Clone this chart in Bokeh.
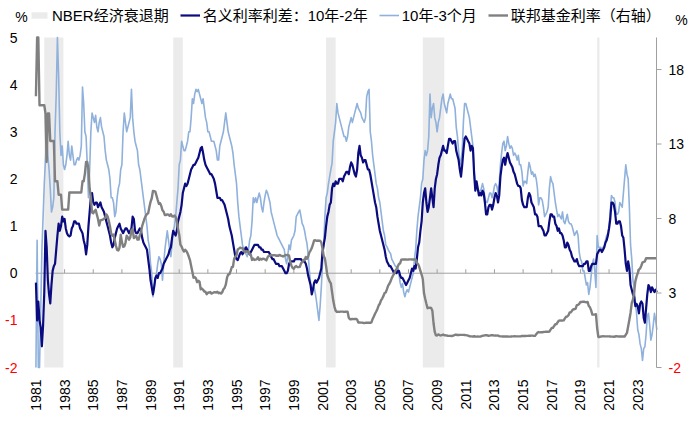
import math
from bokeh.plotting import figure
from bokeh.models import Range1d, Legend, LegendItem, Label, ColumnDataSource
from bokeh.embed import file_html
from bokeh.resources import INLINE

# ---------------- data (monthly, starting Jan 1981) ----------------
START_YEAR = 1981

SPREAD_10Y2Y = [
    -0.2, -1.0, -0.6, -1.0, -1.15, -1.55, -1.1, -0.4, 0.9, 0.55, -0.15, -0.45,   # 1981
    -0.64, -0.25, 0.05, 0.15, 0.2, 0.5, 0.8, 1.05, 0.9, 1.0, 1.2, 1.1,          # 1982
    1.15, 0.95, 0.85, 0.8, 0.78, 0.8, 0.95, 1.0, 1.1, 1.1, 1.05, 1.05,          # 1983
    1.05, 0.95, 0.9, 0.85, 0.7, 0.6, 0.4, 0.6, 1.0, 1.3, 1.6, 1.7,              # 1984
    1.5, 1.45, 1.5, 1.5, 1.4, 1.45, 1.5, 1.4, 1.35, 1.3, 1.2, 1.1,              # 1985
    1.0, 0.9, 0.8, 0.65, 0.55, 0.6, 0.75, 0.85, 0.95, 1.0, 1.05, 0.95,          # 1986
    0.9, 0.85, 0.9, 0.95, 0.95, 0.9, 0.85, 0.9, 0.95, 1.2, 1.15, 0.9,           # 1987
    0.85, 0.85, 0.9, 0.95, 0.9, 0.75, 0.65, 0.6, 0.55, 0.5, 0.3, 0.1,           # 1988
    -0.15, -0.3, -0.45, -0.3, -0.1, -0.05, -0.1, 0.0, 0.0, 0.05, 0.1, 0.2,      # 1989
    0.25, 0.3, 0.35, 0.4, 0.5, 0.55, 0.75, 0.9, 0.85, 0.8, 0.9, 1.1,            # 1990
    1.2, 1.3, 1.45, 1.7, 1.8, 1.9, 1.85, 1.9, 2.0, 2.1, 2.2, 2.25,              # 1991
    2.3, 2.3, 2.35, 2.4, 2.45, 2.55, 2.65, 2.68, 2.55, 2.4, 2.3, 2.25,          # 1992
    2.2, 2.15, 2.1, 2.1, 2.05, 2.0, 1.9, 1.75, 1.6, 1.6, 1.6, 1.55,             # 1993
    1.55, 1.5, 1.45, 1.35, 1.25, 1.15, 1.0, 0.9, 0.8, 0.65, 0.5, 0.35,          # 1994
    0.3, 0.28, 0.35, 0.42, 0.45, 0.4, 0.45, 0.5, 0.55, 0.5, 0.45, 0.4,          # 1995
    0.45, 0.5, 0.55, 0.6, 0.6, 0.6, 0.6, 0.55, 0.55, 0.5, 0.5, 0.45,            # 1996
    0.45, 0.45, 0.45, 0.45, 0.4, 0.35, 0.3, 0.3, 0.25, 0.2, 0.2, 0.2,           # 1997
    0.15, 0.15, 0.15, 0.1, 0.05, 0.0, 0.0, 0.05, 0.2, 0.25, 0.25, 0.25,         # 1998
    0.25, 0.3, 0.3, 0.3, 0.3, 0.3, 0.3, 0.25, 0.25, 0.25, 0.2, 0.1,             # 1999
    -0.05, -0.15, -0.25, -0.45, -0.35, -0.2, -0.15, -0.2, -0.15, -0.1, 0.0, 0.1,  # 2000
    0.45, 0.6, 0.75, 1.0, 1.2, 1.3, 1.45, 1.5, 1.8, 1.9, 1.85, 1.95,            # 2001
    1.9, 1.9, 2.0, 2.0, 2.0, 1.95, 2.05, 2.1, 2.15, 2.15, 2.1, 2.25,            # 2002
    2.35, 2.3, 2.2, 2.1, 2.05, 2.2, 2.55, 2.7, 2.5, 2.45, 2.35, 2.4,            # 2003
    2.4, 2.3, 2.2, 2.2, 2.1, 1.95, 1.8, 1.65, 1.5, 1.4, 1.2, 1.05,              # 2004
    0.9, 0.8, 0.7, 0.6, 0.5, 0.35, 0.25, 0.2, 0.15, 0.15, 0.1, 0.05,            # 2005
    0.0, 0.05, 0.0, 0.05, 0.05, -0.05, -0.1, -0.1, -0.15, -0.2, -0.25, -0.2,    # 2006
    -0.15, -0.1, 0.0, 0.1, 0.05, 0.15, 0.1, 0.3, 0.55, 0.65, 0.9, 1.1,          # 2007
    1.5, 1.7, 1.8, 1.5, 1.3, 1.4, 1.6, 1.8, 1.6, 1.4, 1.8, 2.0,                 # 2008
    2.1, 2.3, 2.45, 2.5, 2.6, 2.7, 2.6, 2.6, 2.55, 2.7, 2.85, 2.85,             # 2009
    2.8, 2.75, 2.8, 2.8, 2.6, 2.5, 2.4, 2.2, 2.05, 2.3, 2.6, 2.85,              # 2010
    2.9, 2.85, 2.8, 2.75, 2.6, 2.7, 2.65, 2.1, 1.75, 1.95, 1.8, 1.65,           # 2011
    1.7, 1.65, 1.75, 1.7, 1.5, 1.25, 1.25, 1.4, 1.45, 1.45, 1.35, 1.45,         # 2012
    1.6, 1.7, 1.65, 1.5, 1.65, 2.05, 2.25, 2.4, 2.45, 2.3, 2.45, 2.55,          # 2013
    2.45, 2.35, 2.3, 2.25, 2.15, 2.1, 2.0, 1.9, 1.85, 1.85, 1.8, 1.55,          # 2014
    1.45, 1.4, 1.4, 1.4, 1.6, 1.7, 1.65, 1.5, 1.45, 1.4, 1.25, 1.25,            # 2015
    1.2, 1.0, 1.0, 1.0, 0.95, 0.9, 0.8, 0.8, 0.85, 0.9, 1.1, 1.25,              # 2016
    1.25, 1.2, 1.2, 1.05, 1.0, 0.9, 0.95, 0.85, 0.85, 0.8, 0.7, 0.55,           # 2017
    0.55, 0.65, 0.6, 0.5, 0.45, 0.35, 0.3, 0.25, 0.25, 0.3, 0.2, 0.15,          # 2018
    0.15, 0.15, 0.15, 0.2, 0.2, 0.25, 0.25, 0.05, 0.05, 0.15, 0.2, 0.2,         # 2019
    0.2, 0.2, 0.4, 0.45, 0.5, 0.5, 0.45, 0.5, 0.55, 0.65, 0.7, 0.8,             # 2020
    0.95, 1.15, 1.5, 1.5, 1.45, 1.3, 1.05, 1.05, 1.1, 1.1, 1.0, 0.8,            # 2021
    0.75, 0.5, 0.2, 0.05, 0.25, 0.1, -0.25, -0.35, -0.45, -0.5, -0.7, -0.65,    # 2022
    -0.7, -0.85, -0.65, -0.6, -0.65, -0.95, -1.05, -0.75, -0.45, -0.25, -0.3, -0.4,  # 2023
    -0.3, -0.35, -0.4, -0.35, -0.4,                                             # 2024
]

SPREAD_10Y3M = [
    -2.0, 0.7, -2.0, -2.0, -0.8, 0.5, 1.2, 1.9, 2.4, 2.9, 2.5, 2.2,             # 1981
    1.8, 1.3, 1.4, 1.6, 3.0, 3.8, 5.0, 4.2, 3.0, 2.5, 2.7, 2.3,                 # 1982
    2.2, 2.3, 2.5, 2.8, 2.5, 2.4, 2.7, 2.5, 2.3, 2.3, 2.4, 2.45,                # 1983
    2.4, 2.5, 2.7, 3.95, 3.6, 3.0, 2.9, 2.3, 1.6, 2.2, 3.0, 3.4,                # 1984
    3.3, 3.2, 3.35, 3.1, 3.0, 3.2, 3.3, 3.1, 3.0, 2.9, 2.6, 2.4,                # 1985
    2.3, 2.2, 2.0, 1.6, 1.6, 1.5, 1.2, 1.3, 1.6, 1.8, 1.9, 2.2,                 # 1986
    2.3, 3.0, 3.4, 3.2, 3.0, 3.1, 3.2, 3.3, 3.9, 3.3, 3.0, 2.8,                 # 1987
    2.7, 2.6, 2.3, 2.2, 2.0, 1.8, 1.6, 1.4, 1.2, 1.0, 0.7, 0.56,                # 1988
    0.2, 0.0, -0.5, -0.3, -0.15, 0.0, 0.2, 0.35, 0.3, 0.2, -0.15, 0.2,          # 1989
    0.5, 0.7, 0.9, 0.7, 0.5, 0.35, 0.6, 0.9, 1.0, 1.2, 1.5, 1.8,                # 1990
    2.3, 2.4, 2.8, 2.7, 2.6, 2.6, 2.7, 2.8, 3.0, 3.0, 3.3, 3.7,                 # 1991
    3.6, 3.8, 3.9, 3.85, 3.9, 3.8, 3.7, 3.6, 3.7, 3.5, 3.3, 3.2,                # 1992
    3.0, 3.0, 2.9, 2.8, 2.8, 2.8, 2.7, 2.6, 2.4, 2.4, 2.7, 2.8,                 # 1993
    2.9, 3.0, 3.2, 3.4, 3.2, 3.0, 2.9, 2.8, 2.7, 2.55, 2.3, 2.1,                # 1994
    1.9, 1.5, 1.2, 1.0, 0.8, 0.6, 0.5, 0.55, 0.4, 0.35, 0.5, 0.7,               # 1995
    0.8, 1.1, 1.6, 1.5, 1.6, 1.5, 1.6, 1.7, 1.6, 1.4, 1.3, 1.5,                 # 1996
    1.65, 1.76, 1.7, 1.6, 1.5, 1.3, 1.2, 1.1, 1.0, 0.9, 0.8, 0.75,              # 1997
    0.7, 0.65, 0.6, 0.55, 0.5, 0.3, 0.2, 0.4, 0.6, 0.5, 0.7, 0.75,              # 1998
    0.8, 0.9, 1.2, 1.25, 1.3, 1.34, 1.2, 1.05, 1.0, 0.9, 0.75, 0.63,            # 1999
    0.4, 0.06, -0.2, -0.36, -0.3, -0.3, -0.43, -0.6, -0.8, -1.0, -0.7, -0.3,    # 2000
    0.2, 0.6, 1.2, 1.6, 1.7, 1.9, 2.05, 2.2, 2.33, 2.8, 3.0, 3.2,               # 2001
    3.6, 3.4, 3.3, 3.2, 3.1, 3.0, 2.9, 2.9, 2.8, 2.9, 3.1, 3.2,                 # 2002
    3.3, 3.2, 3.3, 3.4, 3.5, 3.6, 3.5, 3.45, 3.4, 3.3, 3.25, 3.2,               # 2003
    3.3, 3.74, 3.85, 3.9, 3.0, 2.8, 2.5, 2.3, 2.1, 1.9, 1.8, 1.6,               # 2004
    1.5, 1.3, 1.1, 0.9, 0.8, 0.6, 0.56, 0.5, 0.45, 0.42, 0.3, 0.25,             # 2005
    0.2, 0.15, 0.13, 0.13, 0.0, -0.2, -0.3, -0.22, -0.4, -0.5, -0.4, -0.35,     # 2006
    -0.4, -0.3, -0.2, -0.1, 0.0, 0.3, 0.5, 0.9, 1.2, 1.4, 1.6, 1.9,             # 2007
    2.0, 2.4, 2.6, 2.5, 2.6, 2.9, 3.8, 3.3, 3.5, 3.6, 3.3, 3.2,                 # 2008
    3.0, 3.2, 3.3, 3.5, 3.7, 3.8, 3.6, 3.5, 3.4, 3.6, 3.7, 3.8,                 # 2009
    3.7, 3.7, 3.6, 3.5, 3.1, 2.9, 2.6, 2.3, 2.4, 2.6, 3.2, 3.6,                 # 2010
    3.6, 3.5, 3.4, 3.3, 3.1, 2.9, 2.7, 2.2, 1.9, 1.9, 1.8, 1.75,                # 2011
    1.7, 1.8, 1.9, 1.8, 1.6, 1.5, 1.5, 1.6, 1.7, 1.7, 1.6, 1.7,                 # 2012
    1.85, 1.9, 1.85, 1.7, 1.9, 2.3, 2.55, 2.75, 2.8, 2.6, 2.7, 2.9,             # 2013
    2.75, 2.65, 2.7, 2.65, 2.5, 2.55, 2.5, 2.4, 2.5, 2.3, 2.3, 2.15,            # 2014
    1.85, 1.95, 1.95, 1.9, 2.15, 2.35, 2.25, 2.1, 2.15, 2.05, 2.1, 2.0,         # 2015
    1.8, 1.45, 1.6, 1.6, 1.55, 1.4, 1.2, 1.25, 1.3, 1.4, 1.8, 2.05,             # 2016
    1.95, 1.9, 1.7, 1.5, 1.35, 1.2, 1.25, 1.2, 1.15, 1.3, 1.1, 1.05,            # 2017
    1.15, 1.25, 1.1, 1.05, 1.05, 1.0, 0.9, 0.8, 0.85, 0.9, 0.8, 0.45,           # 2018
    0.3, 0.25, 0.05, 0.05, -0.1, -0.25, -0.2, -0.45, -0.3, -0.05, 0.2, 0.3,     # 2019
    0.05, -0.3, 0.8, 0.55, 0.55, 0.55, 0.5, 0.55, 0.58, 0.7, 0.8, 0.85,         # 2020
    1.0, 1.3, 1.65, 1.6, 1.6, 1.5, 1.25, 1.25, 1.3, 1.5, 1.45, 1.4,             # 2021
    1.7, 2.0, 2.3, 2.1, 2.0, 1.4, 0.6, 0.3, -0.15, -0.3, -0.6, -0.85,           # 2022
    -1.2, -1.3, -1.5, -1.6, -1.85, -1.6, -1.56, -1.3, -0.9, -0.85, -1.1, -1.42, # 2023
    -1.3, -1.1, -0.85, -1.0, -1.2,                                              # 2024
]

FED_FUNDS = [
    16.2, 20.15, 20.15, 15.6, 15.6, 15.6, 15.6, 15.6, 15.05, 11.8, 15.05, 15.05,  # 1981
    13.2, 13.2, 13.2, 13.2, 10.5, 10.5, 10.5, 9.6, 9.6, 9.6, 8.6, 8.6,          # 1982
    8.6, 8.6, 8.6, 8.6, 9.75, 9.75, 9.75, 9.75, 9.75, 9.75, 9.75, 9.75,         # 1983
    9.75, 9.75, 9.75, 10.5, 10.5, 11.0, 11.8, 11.8, 11.3, 10.0, 9.4, 8.4,       # 1984
    8.35, 8.50, 8.58, 8.27, 7.97, 7.53, 7.88, 7.90, 7.92, 7.99, 8.05, 8.27,     # 1985
    8.14, 7.86, 7.48, 6.99, 6.85, 6.92, 6.56, 6.17, 5.89, 5.85, 6.04, 6.91,     # 1986
    6.43, 6.10, 6.13, 6.37, 6.85, 6.73, 6.58, 6.73, 7.22, 7.29, 6.69, 6.77,     # 1987
    6.83, 6.58, 6.58, 6.87, 7.09, 7.51, 7.75, 8.01, 8.19, 8.30, 8.35, 8.76,     # 1988
    9.12, 9.36, 9.85, 9.84, 9.81, 9.53, 9.24, 8.99, 9.02, 8.84, 8.55, 8.45,     # 1989
    8.23, 8.24, 8.28, 8.26, 8.18, 8.29, 8.15, 8.13, 8.20, 8.11, 7.81, 7.31,     # 1990
    6.91, 6.25, 6.12, 5.91, 5.78, 5.90, 5.82, 5.66, 5.45, 5.21, 4.81, 4.43,     # 1991
    4.03, 4.06, 3.98, 3.73, 3.82, 3.76, 3.25, 3.30, 3.22, 3.10, 3.09, 2.92,     # 1992
    3.02, 3.03, 3.07, 2.96, 3.00, 3.04, 3.06, 3.03, 3.09, 2.99, 3.02, 2.96,     # 1993
    3.05, 3.25, 3.34, 3.56, 4.01, 4.25, 4.26, 4.47, 4.73, 4.76, 5.29, 5.45,     # 1994
    5.53, 5.92, 5.98, 6.05, 6.01, 6.00, 5.85, 5.74, 5.80, 5.76, 5.80, 5.60,     # 1995
    5.56, 5.22, 5.31, 5.22, 5.24, 5.27, 5.40, 5.22, 5.30, 5.24, 5.31, 5.29,     # 1996
    5.25, 5.19, 5.39, 5.51, 5.50, 5.56, 5.52, 5.54, 5.54, 5.50, 5.52, 5.50,     # 1997
    5.56, 5.51, 5.49, 5.45, 5.49, 5.56, 5.54, 5.55, 5.51, 5.07, 4.83, 4.68,     # 1998
    4.63, 4.76, 4.81, 4.74, 4.74, 4.76, 4.99, 5.07, 5.22, 5.20, 5.42, 5.30,     # 1999
    5.45, 5.73, 5.85, 6.02, 6.27, 6.53, 6.54, 6.50, 6.52, 6.51, 6.51, 6.40,     # 2000
    5.98, 5.49, 5.31, 4.80, 4.21, 3.97, 3.77, 3.65, 3.07, 2.49, 2.09, 1.82,     # 2001
    1.73, 1.74, 1.73, 1.75, 1.75, 1.75, 1.73, 1.74, 1.75, 1.75, 1.34, 1.24,     # 2002
    1.24, 1.26, 1.25, 1.26, 1.26, 1.22, 1.01, 1.03, 1.01, 1.01, 1.00, 0.98,     # 2003
    1.00, 1.01, 1.00, 1.00, 1.00, 1.03, 1.26, 1.43, 1.61, 1.76, 1.93, 2.16,     # 2004
    2.28, 2.50, 2.63, 2.79, 3.00, 3.04, 3.26, 3.50, 3.62, 3.78, 4.00, 4.16,     # 2005
    4.29, 4.49, 4.59, 4.79, 4.94, 4.99, 5.24, 5.25, 5.25, 5.25, 5.25, 5.24,     # 2006
    5.25, 5.26, 5.26, 5.25, 5.25, 5.25, 5.26, 5.02, 4.94, 4.76, 4.49, 4.24,     # 2007
    3.94, 2.98, 2.61, 2.28, 1.98, 2.00, 2.01, 2.00, 1.81, 0.97, 0.39, 0.16,     # 2008
    0.15, 0.22, 0.18, 0.15, 0.18, 0.21, 0.16, 0.16, 0.15, 0.12, 0.12, 0.12,     # 2009
    0.11, 0.13, 0.16, 0.20, 0.20, 0.18, 0.18, 0.19, 0.19, 0.19, 0.19, 0.18,     # 2010
    0.17, 0.16, 0.14, 0.10, 0.09, 0.09, 0.07, 0.10, 0.08, 0.07, 0.08, 0.07,     # 2011
    0.08, 0.10, 0.13, 0.14, 0.16, 0.16, 0.16, 0.13, 0.14, 0.16, 0.16, 0.16,     # 2012
    0.14, 0.15, 0.14, 0.15, 0.11, 0.09, 0.09, 0.08, 0.08, 0.09, 0.08, 0.09,     # 2013
    0.07, 0.07, 0.08, 0.09, 0.09, 0.10, 0.09, 0.09, 0.09, 0.09, 0.09, 0.12,     # 2014
    0.11, 0.11, 0.11, 0.12, 0.12, 0.13, 0.13, 0.14, 0.14, 0.12, 0.12, 0.24,     # 2015
    0.34, 0.38, 0.36, 0.37, 0.37, 0.38, 0.39, 0.40, 0.40, 0.40, 0.41, 0.54,     # 2016
    0.65, 0.66, 0.79, 0.90, 0.91, 1.04, 1.15, 1.16, 1.15, 1.15, 1.16, 1.30,     # 2017
    1.41, 1.42, 1.51, 1.69, 1.70, 1.82, 1.91, 1.91, 1.95, 2.19, 2.20, 2.27,     # 2018
    2.40, 2.40, 2.41, 2.42, 2.39, 2.38, 2.40, 2.13, 2.04, 1.83, 1.55, 1.55,     # 2019
    1.55, 1.58, 0.65, 0.05, 0.05, 0.08, 0.09, 0.10, 0.09, 0.09, 0.09, 0.09,     # 2020
    0.09, 0.08, 0.07, 0.07, 0.06, 0.08, 0.10, 0.09, 0.08, 0.08, 0.08, 0.08,     # 2021
    0.08, 0.08, 0.20, 0.33, 0.77, 1.21, 1.68, 2.33, 2.56, 3.08, 3.78, 4.10,     # 2022
    4.33, 4.57, 4.65, 4.83, 5.06, 5.08, 5.12, 5.33, 5.33, 5.33, 5.33, 5.33,     # 2023
    5.33, 5.33, 5.33, 5.33, 5.33,                                               # 2024
]

# NBER recessions: (first month, last month)
RECESSIONS = [((1981, 8), (1982, 11)), ((1990, 8), (1991, 3)), ((2001, 4), (2001, 11)),
              ((2008, 1), (2009, 6)), ((2020, 3), (2020, 4))]

X_TICKS = list(range(1981, 2024, 2))
LEFT_TICKS = [-2, -1, 0, 1, 2, 3, 4, 5]
RIGHT_TICKS = [-2, 3, 8, 13, 18]
LEGEND_LABELS = ["NBER经济衰退期", "名义利率利差：10年-2年", "10年-3个月", "联邦基金利率（右轴）"]
UNIT = "%"

# axis extents (data units)
X_START, X_END = 1980.97, 2024.31
Y_MIN, Y_MAX = -2, 5
Y2_MIN, Y2_MAX = -2, 20.15

# ---------------- layout / styles ----------------
W, H = 700, 425
PA_L, PA_R, PA_T, PA_B = 35, 656, 37, 367      # plot area in pixels
NAVY = "#0B0B80"
LIGHT = "#8FB1DB"
GRAY = "#808080"
REC = "#EBEBEB"
AXIS_GRAY = "#A0A0A0"
RED = "#FF0000"
FONT = "Liberation Sans"
LEG_FONT = "Liberation Sans, Noto Sans CJK SC"
TICK_FS = "14px"

xs = (PA_R - PA_L) / (X_END - X_START)          # px per year
ys = (PA_B - PA_T) / (Y_MAX - Y_MIN)            # px per unit (left)
ys2 = (PA_B - PA_T) / (Y2_MAX - Y2_MIN)         # px per unit (right)

x_range = Range1d(X_START - PA_L / xs, X_END + (W - PA_R) / xs)
y_range = Range1d(Y_MIN - (H - PA_B) / ys, Y_MAX + PA_T / ys)
y2_range = Range1d(Y2_MIN - (H - PA_B) / ys2, Y2_MAX + PA_T / ys2)


def months(series):
    return [START_YEAR + i / 12 for i in range(len(series))]


p = figure(width=W, height=H, x_range=x_range, y_range=y_range,
           output_backend="svg", toolbar_location=None,
           x_axis_location=None, y_axis_location=None,
           min_border_left=0, min_border_right=0, min_border_top=0, min_border_bottom=0)
p.extra_y_ranges = {"ff": y2_range}
p.outline_line_color = None
p.xgrid.visible = False
p.ygrid.visible = False
p.background_fill_color = "white"
p.border_fill_color = "white"

# recession shading
rec_src = ColumnDataSource(dict(
    left=[a[0] + (a[1] - 1) / 12 for a, b in RECESSIONS],
    right=[b[0] + b[1] / 12 for a, b in RECESSIONS],
    bottom=[Y_MIN] * len(RECESSIONS),
    top=[Y_MAX] * len(RECESSIONS)))
r_rec = p.quad(left="left", right="right", bottom="bottom", top="top", source=rec_src,
               fill_color=REC, line_color=None)

# zero line with year ticks
p.segment(x0=[X_START], y0=[0], x1=[X_END], y1=[0], line_color=AXIS_GRAY, line_width=1)
tick_years = X_TICKS[1:]
p.segment(x0=tick_years, y0=[0] * len(tick_years), x1=tick_years,
          y1=[4 / ys] * len(tick_years), line_color=AXIS_GRAY, line_width=1)

# series
r_3m = p.line(months(SPREAD_10Y3M), SPREAD_10Y3M, line_color=LIGHT, line_width=1.6, line_join="round")
r_2y = p.line(months(SPREAD_10Y2Y), SPREAD_10Y2Y, line_color=NAVY, line_width=2.2, line_join="round")
r_ff = p.line(months(FED_FUNDS), FED_FUNDS, line_color=GRAY, line_width=2.4, line_join="round",
              y_range_name="ff")

# right axis: line, ticks, labels
p.segment(x0=[X_END], y0=[Y_MIN], x1=[X_END], y1=[Y_MAX], line_color=AXIS_GRAY, line_width=1)
p.segment(x0=[X_END] * len(RIGHT_TICKS), y0=RIGHT_TICKS,
          x1=[X_END + 5 / xs] * len(RIGHT_TICKS), y1=RIGHT_TICKS,
          line_color=AXIS_GRAY, line_width=1, y_range_name="ff")
for t in RIGHT_TICKS:
    p.add_layout(Label(x=X_END, y=t, y_range_name="ff", x_offset=12, text=str(t),
                       text_color=RED if t < 0 else "black", text_align="left",
                       text_baseline="middle", text_font=FONT, text_font_size=TICK_FS))

# left axis labels (black positive, red negative)
for v in LEFT_TICKS:
    p.add_layout(Label(x=X_START, y=v, x_offset=-18, text=str(v),
                       text_color=RED if v < 0 else "black",
                       text_align="right", text_baseline="middle",
                       text_font=FONT, text_font_size=TICK_FS))

# bottom axis labels (rotated)
for yr in X_TICKS:
    p.add_layout(Label(x=yr, y=Y_MIN, y_offset=-12, text=str(yr), angle=math.pi / 2,
                       text_align="right", text_baseline="middle", text_color="black",
                       text_font=FONT, text_font_size=TICK_FS))

# unit labels
p.add_layout(Label(x=X_START, y=Y_MAX, x_offset=-14, y_offset=21, text=UNIT, text_align="center",
                   text_baseline="middle", text_font=FONT, text_font_size=TICK_FS, text_color="black"))
p.add_layout(Label(x=X_END, y=Y_MAX, x_offset=25, y_offset=18, text=UNIT, text_align="center",
                   text_baseline="middle", text_font=FONT, text_font_size=TICK_FS, text_color="black"))

legend = Legend(items=[LegendItem(label=LEGEND_LABELS[0], renderers=[r_rec]),
                       LegendItem(label=LEGEND_LABELS[1], renderers=[r_2y]),
                       LegendItem(label=LEGEND_LABELS[2], renderers=[r_3m]),
                       LegendItem(label=LEGEND_LABELS[3], renderers=[r_ff])],
                orientation="horizontal", location=(29, H - 7 - 18),
                glyph_width=20, glyph_height=8, label_standoff=3, spacing=11,
                padding=0, margin=0, border_line_color=None, background_fill_alpha=0,
                label_text_font=LEG_FONT, label_text_font_size="15px", label_text_color="black",
                label_height=18, label_text_baseline="middle")
p.add_layout(legend)

open("out.html", "w").write(file_html(p, INLINE))
